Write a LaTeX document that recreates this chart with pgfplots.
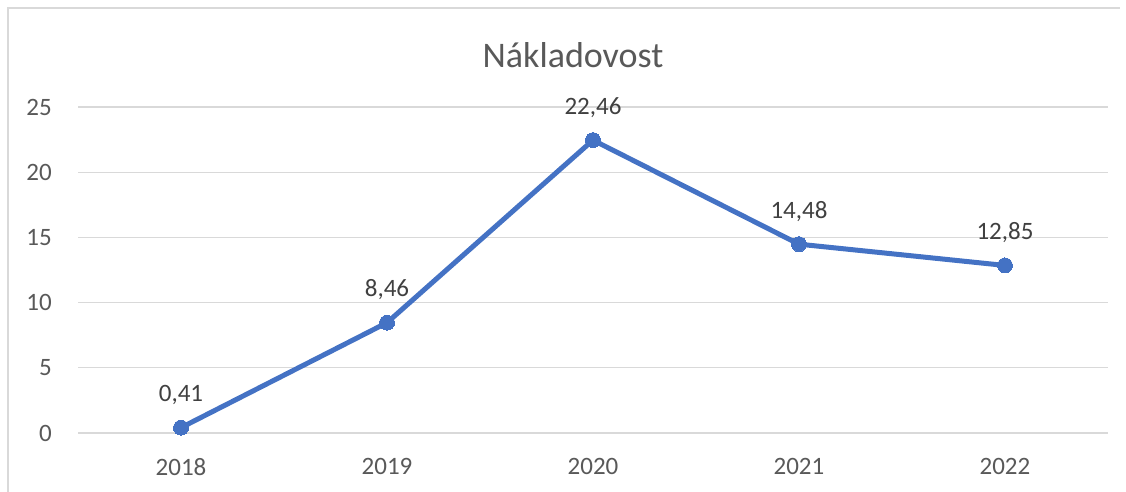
\documentclass[border=0pt]{standalone}
\usepackage{pgfplots}
\pgfplotsset{compat=1.18}
\usepackage{fontspec}
\setmainfont{Carlito}
\definecolor{gridc}{HTML}{D9D9D9}
\definecolor{tickc}{HTML}{595959}
\definecolor{labc}{HTML}{404040}
\definecolor{linec}{HTML}{4472C4}
\begin{document}
\begin{tikzpicture}[x=1pt,y=1pt]
\useasboundingbox (0,0) rectangle (1126,491);
\draw[gridc, line width=1.2pt] (8,-2) -- (8,483) -- (1120,483);
\node[tickc, font=\fontsize{36}{40}\selectfont] at (573,436) {Nákladovost};
\begin{axis}[
  at={(78pt,58pt)}, anchor=south west,
  scale only axis, width=1030pt, height=326pt,
  xmin=-0.5, xmax=4.5, ymin=0, ymax=25,
  xtick={0,1,2,3,4},
  xticklabels={2018,2019,2020,2021,2022},
  ytick={0,5,10,15,20,25},
  axis line style={draw=none},
  tick style={draw=none},
  ymajorgrids,
  grid style={gridc, line width=1.3pt},
  /pgf/number format/assume math mode=true,
  ticklabel style={font=\fontsize{25}{30}\selectfont, text=tickc},
  yticklabel style={anchor=east, inner sep=0pt, xshift=-26pt},
  xticklabel style={anchor=north, inner sep=0pt, yshift=-25pt},
  clip=false,
  point meta=explicit symbolic,
  nodes near coords,
  nodes near coords style={anchor=base, inner sep=0pt, yshift=26pt, font=\fontsize{25}{30}\selectfont, text=labc},
]
\addplot[linec, line width=5pt, mark=*, mark size=7.5pt, mark options={fill=linec, draw=linec, line width=0pt}]
coordinates {(0,0.41)[0,41] (1,8.46)[8,46] (2,22.46)[22,46] (3,14.48)[14,48] (4,12.85)[12,85]};
\end{axis}
\end{tikzpicture}
\end{document}
